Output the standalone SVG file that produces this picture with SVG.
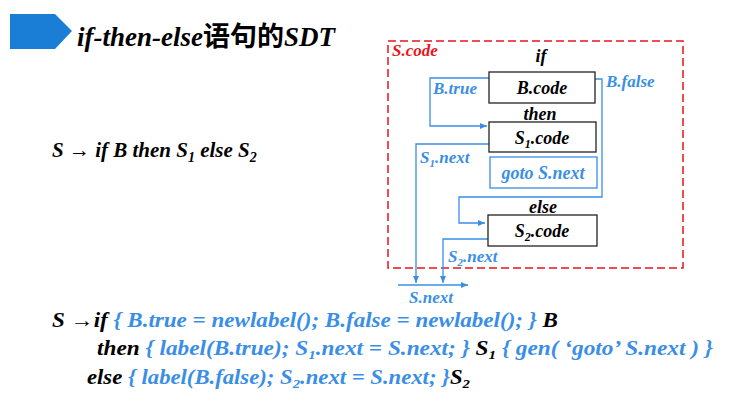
<svg xmlns="http://www.w3.org/2000/svg" width="734" height="407" viewBox="0 0 734 407">
<style>
text{font-family:'Liberation Serif','Times New Roman','DejaVu Serif',serif;font-weight:bold;font-style:italic}
.k{fill:#000}.b{fill:#3a8ee6}.r{fill:#e8141c}
.box{fill:#fff;stroke:#222;stroke-width:1.3}
.ln{fill:none;stroke:#3a8ee6;stroke-width:1.3}
</style>
<defs><marker id="a" markerWidth="8" markerHeight="8" refX="7" refY="4" orient="auto" markerUnits="userSpaceOnUse"><path d="M0,1 L7,4 L0,7z" fill="#3a8ee6"/></marker></defs>
<g id="title">
<path d="M10,14 H55 L72,31 L55,49 H10z" fill="#1a7ed6"/>
<text x="77" y="46" font-size="27" class="k">if-then-else<tspan style="font-style:normal;font-family:'Noto Sans CJK SC',sans-serif">语句的</tspan>SDT</text>
</g>
<text x="52" y="157" font-size="21" class="k">S → if B then S<tspan font-size="14" dy="5">1</tspan><tspan dy="-5"> else S</tspan><tspan font-size="14" dy="5">2</tspan></text>
<rect x="388" y="41" width="295" height="227" fill="none" stroke="#e8141c" stroke-width="1.5" stroke-dasharray="8,4"/>
<text x="392" y="56" font-size="17" class="r">S.code</text>
<g id="connectors">
<path class="ln" d="M489,78 H430 V126 H487" marker-end="url(#a)"/>
<path class="ln" d="M595,79 H602 V197 H459 V223 H485" marker-end="url(#a)"/>
<path class="ln" d="M489,144 H416 V283" marker-end="url(#a)"/>
<path class="ln" d="M488,239 H443 V283" marker-end="url(#a)"/>
<path class="ln" d="M398,285 H468" marker-end="url(#a)"/>
</g>
<text x="541" y="62" font-size="18" class="k" text-anchor="middle">if</text>
<text x="540" y="120" font-size="18" class="k" text-anchor="middle">then</text>
<text x="543" y="213" font-size="18" class="k" text-anchor="middle">else</text>
<g id="bcode"><rect class="box" x="489" y="72" width="106" height="31"/><text x="542" y="94" font-size="18" class="k" text-anchor="middle">B.code</text></g>
<g id="s1code"><rect class="box" x="489" y="122" width="107" height="30"/><text x="542" y="144" font-size="18" class="k" text-anchor="middle">S<tspan font-size="12" dy="4">1</tspan><tspan dy="-4">.code</tspan></text></g>
<g id="goto"><rect x="490" y="157" width="107" height="31" fill="#fff" stroke="#3a8ee6" stroke-width="1.3"/><text x="543" y="179" font-size="18" class="b" text-anchor="middle">goto S.next</text></g>
<g id="s2code"><rect class="box" x="488" y="215" width="109" height="31"/><text x="542" y="237" font-size="18" class="k" text-anchor="middle">S<tspan font-size="12" dy="4">2</tspan><tspan dy="-4">.code</tspan></text></g>
<text x="433" y="94" font-size="17" class="b">B.true</text>
<text x="606" y="87" font-size="17" class="b">B.false</text>
<text x="420" y="163" font-size="17" class="b">S<tspan font-size="11" dy="4">1</tspan><tspan dy="-4">.next</tspan></text>
<text x="448" y="262" font-size="17" class="b">S<tspan font-size="11" dy="4">2</tspan><tspan dy="-4">.next</tspan></text>
<text x="409" y="303" font-size="17" class="b">S.next</text>
<g font-size="20">
<text x="52" y="327" class="k" textLength="506" lengthAdjust="spacingAndGlyphs">S →if <tspan class="b">{ B.true = newlabel(); B.false = newlabel(); } </tspan>B</text>
<text x="97" y="355" class="k" textLength="616" lengthAdjust="spacingAndGlyphs">then <tspan class="b">{ label(B.true); S</tspan><tspan class="b" font-size="13" dy="4">1</tspan><tspan class="b" dy="-4">.next = S.next; } </tspan>S<tspan font-size="13" dy="4">1</tspan><tspan class="b" dy="-4"> { gen( ‘goto’  S.next ) }</tspan></text>
<text x="87" y="384" class="k" textLength="383" lengthAdjust="spacingAndGlyphs">else <tspan class="b">{ label(B.false); S</tspan><tspan class="b" font-size="13" dy="4">2</tspan><tspan class="b" dy="-4">.next = S.next; }</tspan>S<tspan font-size="13" dy="4">2</tspan></text>
</g>
</svg>
